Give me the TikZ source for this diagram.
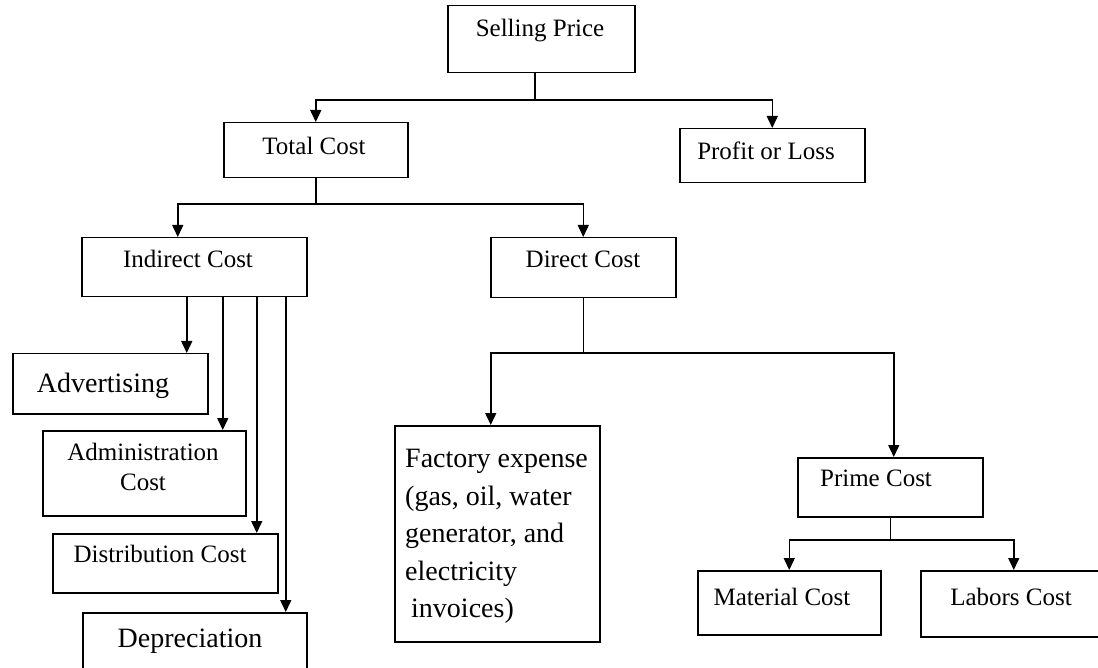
\documentclass[tikz,border=0pt]{standalone}
\usepackage{fontspec}
\setmainfont{Liberation Serif}
\usetikzlibrary{arrows.meta}
\begin{document}
\begin{tikzpicture}[x=1pt,y=-1pt,
 box/.style={draw, line width=1.5pt, inner sep=0pt, anchor=north west},
 lbl/.style={font=\fontsize{25}{30}\selectfont, inner sep=0pt},
 biglbl/.style={font=\fontsize{28}{32}\selectfont, inner sep=0pt},
 conn/.style={line width=1.5pt},
 arr/.style={line width=1.5pt, -{Triangle[length=12pt,width=11pt]}}]
\useasboundingbox (0,0) rectangle (1098,668);
% boxes
\node[box, minimum width=187pt, minimum height=67pt] (sp) at (447,5) {};
\node[box, minimum width=184pt, minimum height=55pt] (tc) at (223,122) {};
\node[box, minimum width=185pt, minimum height=54pt] (pl) at (679,128) {};
\node[box, minimum width=225pt, minimum height=59pt] (ic) at (81,237) {};
\node[box, minimum width=185pt, minimum height=60pt] (dc) at (490,237) {};
\node[box, minimum width=195pt, minimum height=60pt] (ad) at (12,353) {};
\node[box, minimum width=203pt, minimum height=85pt] (am) at (42,430) {};
\node[box, minimum width=225pt, minimum height=59pt] (ds) at (52,533) {};
\node[box, minimum width=224pt, minimum height=70pt] (dp) at (82,612) {};
\node[box, minimum width=205pt, minimum height=216pt] (fe) at (394,425) {};
\node[box, minimum width=185pt, minimum height=59pt] (pc) at (797,457) {};
\node[box, minimum width=183pt, minimum height=64pt] (mc) at (697,570) {};
\node[box, minimum width=240pt, minimum height=66pt] (lc) at (920,570) {};
% texts
\node[lbl] (tsp) at (540,31) {Selling Price};
\node[lbl] (ttc) at (314,146) {Total Cost};
\node[lbl] (tpl) at (766,151) {Profit or Loss};
\node[lbl] (tic) at (188,259) {Indirect Cost};
\node[lbl] (tdc) at (583,259) {Direct Cost};
\node[biglbl] (tad) at (103,386) {Advertising};
\node[lbl, align=center, font=\fontsize{25}{30}\selectfont] (tam) at (143,467) {Administration\\Cost};
\node[lbl] (tds) at (160,554) {Distribution Cost};
\node[biglbl] (tdp) at (190,641) {Depreciation};
\node[lbl, align=left, anchor=north west, font=\fontsize{28}{37.5}\selectfont] (tfe) at (405,449)
  {Factory expense\\(gas, oil, water\\generator, and\\electricity\\\hspace*{6pt}invoices)};
\node[lbl] (tpc) at (876,478) {Prime Cost};
\node[lbl] (tmc) at (782,597) {Material Cost};
\node[lbl] (tlc) at (1011,597) {Labors Cost};
% connectors
\coordinate (y1) at (0,100);
\coordinate (y2) at (0,204);
\coordinate (y3) at (0,353);
\coordinate (y4) at (0,540);
\draw[arr] ([xshift=-6.5pt]sp.south) -- ([xshift=-6.5pt]sp.south |- y1) -| (tc.north);
\draw[arr] ([xshift=-6.5pt]sp.south |- y1) -| (pl.north);
\draw[arr] (tc.south) -- (tc.south |- y2) -| ([xshift=-16.5pt]ic.north);
\draw[arr] (tc.south |- y2) -| (dc.north);
\draw[arr] ([xshift=-7.5pt]ic.south) -- ([xshift=-7.5pt]ic.south |- ad.north);
\draw[arr] ([xshift=28.5pt]ic.south) -- ([xshift=28.5pt]ic.south |- am.north);
\draw[arr] ([xshift=62.5pt]ic.south) -- ([xshift=62.5pt]ic.south |- ds.north);
\draw[arr] ([xshift=91.5pt]ic.south) -- ([xshift=91.5pt]ic.south |- dp.north);
\draw[arr] (dc.south) -- (dc.south |- y3) -| ([xshift=-6.5pt]fe.north);
\draw[arr] (dc.south |- y3) -| ([xshift=3.5pt]pc.north);
\draw[arr] (pc.south) -- (pc.south |- y4) -| (mc.north);
\draw[arr] (pc.south |- y4) -| ([xshift=-27pt]lc.north);
\end{tikzpicture}
\end{document}
